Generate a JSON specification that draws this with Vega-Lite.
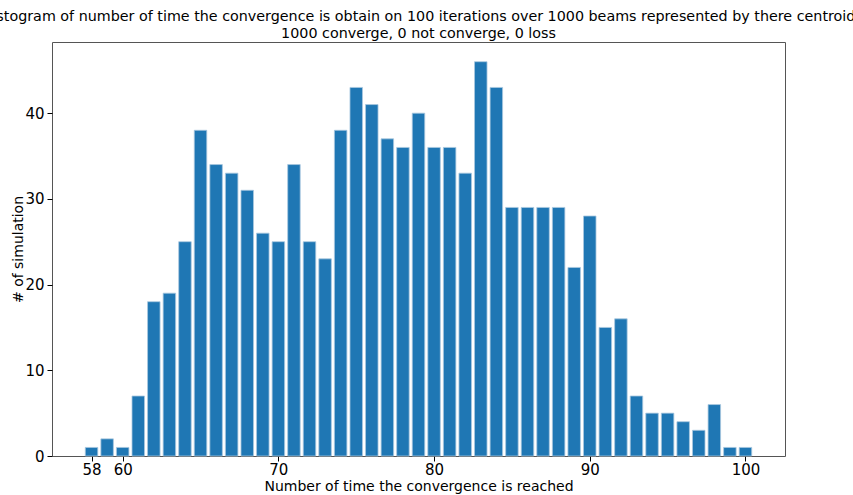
{
  "$schema": "https://vega.github.io/schema/vega-lite/v6.json",
  "autosize": "none",
  "width": 733,
  "height": 414,
  "padding": {"left": 52, "top": 42, "right": 68, "bottom": 39},
  "background": "white",
  "config": {
    "font": "DejaVu Sans",
    "view": {"stroke": "#555555", "strokeWidth": 1}
  },
  "title": {
    "text": ["Histogram of number of time the convergence is obtain on 100 iterations over 1000 beams represented by there centroid", "1000 converge, 0 not converge, 0 loss"],
    "anchor": "middle",
    "frame": "group",
    "font": "DejaVu Sans",
    "fontSize": 14.3,
    "fontWeight": "normal",
    "color": "black",
    "lineHeight": 17,
    "offset": 1
  },
  "data": {
    "values": [
      {"n": 58, "count": 1}, {"n": 59, "count": 2}, {"n": 60, "count": 1}, {"n": 61, "count": 7},
      {"n": 62, "count": 18}, {"n": 63, "count": 19}, {"n": 64, "count": 25}, {"n": 65, "count": 38},
      {"n": 66, "count": 34}, {"n": 67, "count": 33}, {"n": 68, "count": 31}, {"n": 69, "count": 26},
      {"n": 70, "count": 25}, {"n": 71, "count": 34}, {"n": 72, "count": 25}, {"n": 73, "count": 23},
      {"n": 74, "count": 38}, {"n": 75, "count": 43}, {"n": 76, "count": 41}, {"n": 77, "count": 37},
      {"n": 78, "count": 36}, {"n": 79, "count": 40}, {"n": 80, "count": 36}, {"n": 81, "count": 36},
      {"n": 82, "count": 33}, {"n": 83, "count": 46}, {"n": 84, "count": 43}, {"n": 85, "count": 29},
      {"n": 86, "count": 29}, {"n": 87, "count": 29}, {"n": 88, "count": 29}, {"n": 89, "count": 22},
      {"n": 90, "count": 28}, {"n": 91, "count": 15}, {"n": 92, "count": 16}, {"n": 93, "count": 7},
      {"n": 94, "count": 5}, {"n": 95, "count": 5}, {"n": 96, "count": 4}, {"n": 97, "count": 3},
      {"n": 98, "count": 6}, {"n": 99, "count": 1}, {"n": 100, "count": 1}
    ]
  },
  "mark": {"type": "bar", "color": "#1f77b4", "width": 12.5, "stroke": "#a9c8e0", "strokeWidth": 0.8},
  "encoding": {
    "x": {
      "field": "n",
      "type": "quantitative",
      "scale": {"domain": [55.46, 102.54], "nice": false, "zero": false, "padding": 0},
      "axis": {
        "values": [58, 60, 70, 80, 90, 100],
        "title": "Number of time the convergence is reached",
        "titleFontSize": 14, "titleFontWeight": "normal", "titleColor": "black", "titlePadding": 2,
        "labelFontSize": 15, "labelColor": "black", "labelPadding": 1,
        "tickSize": 5, "tickColor": "black", "domain": false, "grid": false
      }
    },
    "y": {
      "field": "count",
      "type": "quantitative",
      "scale": {"domain": [0, 48.3], "nice": false, "padding": 0},
      "axis": {
        "values": [0, 10, 20, 30, 40],
        "title": "# of simulation",
        "titleFontSize": 14, "titleFontWeight": "normal", "titleColor": "black", "titlePadding": -1,
        "labelFontSize": 15, "labelColor": "black", "labelPadding": 3,
        "tickSize": 5, "tickColor": "black", "domain": false, "grid": false
      }
    }
  }
}
